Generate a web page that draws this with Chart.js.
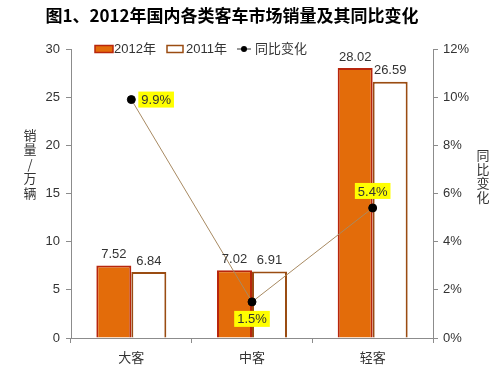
<!DOCTYPE html>
<html>
<head>
<meta charset="utf-8">
<script src="https://cdn.jsdelivr.net/npm/chart.js@4/dist/chart.umd.min.js"></script>
<style>
html, body { margin: 0; padding: 0; background: #fff; }
#wrap { width: 500px; height: 373px; }
</style>
</head>
<body>
<div id="wrap"><canvas id="salesChart"></canvas></div>
<script>
// data
const categories = ['大客', '中客', '轻客'];
const sales2012 = [7.52, 7.02, 28.02];
const sales2011 = [6.84, 6.91, 26.59];
const yoyChange = [9.9, 1.5, 5.4];
const yoyLabelSide = ['right', 'below', 'above'];

const FONT = '"Liberation Sans", "Noto Sans CJK SC", sans-serif';
const CJK = '"Noto Sans CJK SC", "Liberation Sans", sans-serif';
const ORANGE = '#E36C0A';
const DARK_RED = '#B8260C';
const BROWN = '#9A4C12';
const LINE_COLOR = '#A88A62';
const AXIS = '#8c8c8c';
const TEXT = '#333';

const decorPlugin = {
    id: 'decor',
    afterDatasetsDraw(chart) {
        const ctx = chart.ctx;
        ctx.save();
        ctx.font = '13px ' + FONT;
        ctx.textAlign = 'center';
        ctx.textBaseline = 'middle';
        ctx.fillStyle = TEXT;
        // value labels above the bars
        [0, 1].forEach(di => {
            chart.getDatasetMeta(di).data.forEach((bar, i) => {
                const v = chart.data.datasets[di].data[i];
                ctx.fillText(v.toFixed(2), bar.x, bar.y - 11);
            });
        });
        // yellow percent labels
        chart.getDatasetMeta(2).data.forEach((pt, i) => {
            const txt = yoyChange[i].toFixed(1) + '%';
            const w = ctx.measureText(txt).width + 6;
            const h = 16;
            let bx, by;
            if (yoyLabelSide[i] === 'right') { bx = pt.x + 7; by = pt.y - h / 2; }
            else if (yoyLabelSide[i] === 'below') { bx = pt.x - w / 2; by = pt.y + 9; }
            else { bx = pt.x - w / 2; by = pt.y - 9 - h; }
            ctx.fillStyle = '#FFFF00';
            ctx.fillRect(bx, by, w, h);
            ctx.fillStyle = TEXT;
            ctx.fillText(txt, bx + w / 2, by + h / 2 + 1);
        });
        ctx.restore();
    },
    afterDraw(chart) {
        const ctx = chart.ctx;
        ctx.save();
        // title
        ctx.fillStyle = '#000';
        ctx.font = 'bold 17px ' + CJK;
        ctx.textAlign = 'center';
        ctx.textBaseline = 'middle';
        ctx.fillText('图1、2012年国内各类客车市场销量及其同比变化', 232, 16);

        // vertical axis titles
        ctx.font = '13px ' + CJK;
        ctx.fillStyle = TEXT;
        ['销', '量', '/', '万', '辆'].forEach((ch, i) => ctx.fillText(ch, 30, 135 + i * 14.5));
        ['同', '比', '变', '化'].forEach((ch, i) => ctx.fillText(ch, 483, 155 + i * 14));

        // legend
        const ly = 49;
        ctx.lineWidth = 1.5;
        ctx.fillStyle = ORANGE;
        ctx.fillRect(95, ly - 3.5, 18, 7);
        ctx.strokeStyle = DARK_RED;
        ctx.strokeRect(95, ly - 3.5, 18, 7);
        ctx.fillStyle = '#fff';
        ctx.fillRect(167, ly - 3.5, 16, 7);
        ctx.strokeStyle = BROWN;
        ctx.strokeRect(167, ly - 3.5, 16, 7);
        ctx.strokeStyle = '#333';
        ctx.lineWidth = 1;
        ctx.beginPath();
        ctx.moveTo(237, ly);
        ctx.lineTo(251, ly);
        ctx.stroke();
        ctx.fillStyle = '#000';
        ctx.beginPath();
        ctx.arc(244, ly, 3, 0, Math.PI * 2);
        ctx.fill();

        ctx.fillStyle = TEXT;
        ctx.textAlign = 'left';
        ctx.font = '13px ' + FONT;
        ctx.fillText('2012年', 114, ly);
        ctx.fillText('2011年', 186, ly);
        ctx.fillText('同比变化', 255, ly);
        ctx.restore();
    }
};

new Chart(document.getElementById('salesChart').getContext('2d'), {
    type: 'bar',
    data: {
        labels: categories,
        datasets: [{
            label: '2012年',
            data: sales2012,
            backgroundColor: ORANGE,
            borderColor: DARK_RED,
            borderWidth: 2,
            categoryPercentage: 0.58,
            barPercentage: 1,
            yAxisID: 'y',
            order: 1
        }, {
            label: '2011年',
            data: sales2011,
            backgroundColor: '#ffffff',
            borderColor: BROWN,
            borderWidth: 2,
            categoryPercentage: 0.58,
            barPercentage: 1,
            yAxisID: 'y',
            order: 1
        }, {
            type: 'line',
            label: '同比变化',
            data: yoyChange,
            borderColor: LINE_COLOR,
            borderWidth: 1,
            pointBackgroundColor: '#000',
            pointBorderColor: '#000',
            pointRadius: 4,
            yAxisID: 'y1',
            order: 0
        }]
    },
    options: {
        responsive: true,
        maintainAspectRatio: false,
        animation: false,
        layout: { padding: { top: 49, left: 0, right: 0, bottom: 0 } },
        plugins: {
            legend: { display: false },
            tooltip: { enabled: false }
        },
        scales: {
            x: {
                afterFit(scale) { scale.height = 35; },
                grid: { drawOnChartArea: false, tickLength: 5, color: AXIS, offset: true },
                border: { color: AXIS },
                ticks: { color: TEXT, padding: 6, font: { family: CJK, size: 13 } }
            },
            y: {
                position: 'left',
                min: 0,
                max: 30,
                afterFit(scale) { scale.width = 71; },
                grid: { drawOnChartArea: false, tickLength: 5, color: AXIS },
                border: { color: AXIS },
                ticks: { stepSize: 5, color: TEXT, padding: 6, font: { family: FONT, size: 13 } }
            },
            y1: {
                position: 'right',
                min: 0,
                max: 12,
                afterFit(scale) { scale.width = 67; },
                grid: { drawOnChartArea: false, tickLength: 5, color: AXIS },
                border: { color: AXIS },
                ticks: {
                    stepSize: 2,
                    color: TEXT,
                    padding: 5,
                    font: { family: FONT, size: 13 },
                    callback: v => v + '%'
                }
            }
        }
    },
    plugins: [decorPlugin]
});
</script>
</body>
</html>
